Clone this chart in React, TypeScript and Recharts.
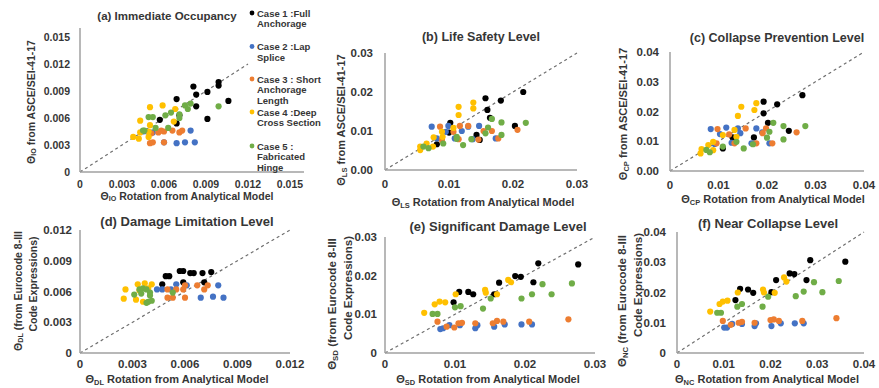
import React from 'react';
import { ScatterChart, Scatter, XAxis, YAxis, ReferenceLine } from 'recharts';

const FONT = '"Liberation Sans", Arial, sans-serif';
const TEXT = '#363636';
const AXIS = '#a0a0a0';

const caseNames = [
  ['Case 1 :Full', 'Anchorage'],
  ['Case 2 :Lap', 'Splice'],
  ['Case 3 : Short', 'Anchorage', 'Length'],
  ['Case 4 :Deep', 'Cross Section'],
  ['Case 5 :', 'Fabricated', 'Hinge'],
];
const caseColors = ['#000000', '#4472C4', '#ED7D31', '#FFC000', '#70AD47'];

// (a) Immediate Occupancy
const io1 = [[0.0099,0.0100],[0.0099,0.0096],[0.0091,0.0089],[0.0081,0.0095],[0.0083,0.0086],[0.0069,0.0081],[0.0083,0.0073],[0.0106,0.0079],[0.0071,0.0063],[0.0057,0.0058],[0.0091,0.0059],[0.0069,0.0054]];
const io2 = [[0.0045,0.0045],[0.0052,0.0044],[0.0079,0.0046],[0.0060,0.0033],[0.0069,0.0032],[0.0075,0.0033],[0.0082,0.0033],[0.0048,0.0045]];
const io3 = [[0.0050,0.0032],[0.0052,0.0033],[0.0060,0.0033],[0.0051,0.0043],[0.0056,0.0044],[0.0060,0.0045],[0.0066,0.0046],[0.0071,0.0044],[0.0073,0.0046],[0.0058,0.0046]];
const io4 = [[0.0050,0.0072],[0.0059,0.0074],[0.0068,0.0070],[0.0043,0.0057],[0.0050,0.0052],[0.0067,0.0056],[0.0038,0.0039],[0.0042,0.0037],[0.0049,0.0039],[0.0043,0.0044],[0.0049,0.0045]];
const io5 = [[0.0079,0.0076],[0.0075,0.0074],[0.0077,0.0070],[0.0071,0.0064],[0.0071,0.0060],[0.0061,0.0063],[0.0099,0.0073],[0.0049,0.0061],[0.0052,0.0061],[0.0054,0.0049],[0.0063,0.0049],[0.0046,0.0046],[0.0045,0.0046],[0.0065,0.0066]];

// (b) Life Safety
const ls1 = [[0.0216,0.0200],[0.0181,0.0178],[0.0157,0.0184],[0.0160,0.0154],[0.0164,0.0134],[0.0102,0.0121],[0.0143,0.0090],[0.0148,0.0077],[0.0203,0.0113],[0.0081,0.0066],[0.0100,0.0096]];
const ls2 = [[0.0073,0.0111],[0.0099,0.0113],[0.0095,0.0098],[0.0081,0.0081],[0.0109,0.0081],[0.0120,0.0100],[0.0130,0.0111],[0.0147,0.0113],[0.0137,0.0079],[0.0173,0.0081]];
const ls3 = [[0.0086,0.0111],[0.0107,0.0098],[0.0117,0.0113],[0.0130,0.0113],[0.0115,0.0079],[0.0154,0.0100],[0.0167,0.0100],[0.0177,0.0081],[0.0207,0.0103],[0.0089,0.0077],[0.0146,0.0078]];
const ls4 = [[0.0115,0.0162],[0.0115,0.0141],[0.0138,0.0173],[0.0138,0.0158],[0.0055,0.0060],[0.0055,0.0051],[0.0065,0.0068],[0.0075,0.0060],[0.0076,0.0084],[0.0090,0.0085],[0.0107,0.0108],[0.0089,0.0098]];
const ls5 = [[0.0167,0.0131],[0.0182,0.0122],[0.0220,0.0121],[0.0161,0.0109],[0.0182,0.0090],[0.0157,0.0094],[0.0112,0.0085],[0.0122,0.0064],[0.0135,0.0079],[0.0091,0.0068],[0.0068,0.0056],[0.0060,0.0060],[0.0112,0.0080]];

// (c) Collapse Prevention
const cp1 = [[0.0273,0.0255],[0.0221,0.0224],[0.0193,0.0233],[0.0193,0.0194],[0.0202,0.0162],[0.0245,0.0135],[0.0173,0.0113],[0.0129,0.0113],[0.0109,0.0076]];
const cp2 = [[0.0084,0.0141],[0.0116,0.0146],[0.0103,0.0124],[0.0140,0.0143],[0.0145,0.0127],[0.0127,0.0095],[0.0092,0.0091],[0.0178,0.0143],[0.0190,0.0130],[0.0168,0.0093],[0.0205,0.0093]];
const cp3 = [[0.0098,0.0141],[0.0096,0.0093],[0.0122,0.0123],[0.0133,0.0093],[0.0156,0.0143],[0.0178,0.0093],[0.0198,0.0143],[0.0191,0.0127],[0.0211,0.0093],[0.0261,0.0130]];
const cp4 = [[0.0147,0.0216],[0.0178,0.0228],[0.0174,0.0205],[0.0140,0.0185],[0.0133,0.0138],[0.0137,0.0115],[0.0109,0.0121],[0.0089,0.0098],[0.0079,0.0087],[0.0065,0.0074],[0.0063,0.0059],[0.0089,0.0070]];
const cp5 = [[0.0213,0.0162],[0.0234,0.0151],[0.0279,0.0151],[0.0205,0.0132],[0.0200,0.0112],[0.0234,0.0106],[0.0152,0.0076],[0.0137,0.0098],[0.0109,0.0082],[0.0075,0.0071],[0.0082,0.0063],[0.0171,0.0090]];

// (d) Damage Limitation
const dl1 = [[0.0049,0.0075],[0.0051,0.0075],[0.0057,0.0080],[0.0059,0.0080],[0.0063,0.0078],[0.0065,0.0078],[0.0070,0.0078],[0.0075,0.0079],[0.0047,0.0067],[0.0059,0.0069],[0.0071,0.0069]];
const dl2 = [[0.0044,0.0062],[0.0047,0.0062],[0.0052,0.0062],[0.0055,0.0067],[0.0061,0.0066],[0.0069,0.0054],[0.0076,0.0055],[0.0082,0.0054],[0.0079,0.0066]];
const dl3 = [[0.0050,0.0054],[0.0053,0.0054],[0.0060,0.0054],[0.0050,0.0062],[0.0055,0.0062],[0.0059,0.0062],[0.0060,0.0066],[0.0067,0.0066],[0.0071,0.0062],[0.0073,0.0066]];
const dl4 = [[0.0026,0.0062],[0.0025,0.0053],[0.0033,0.0067],[0.0037,0.0068],[0.0041,0.0067],[0.0032,0.0052],[0.0036,0.0050],[0.0039,0.0063],[0.0034,0.0061]];
const dl5 = [[0.0034,0.0062],[0.0036,0.0063],[0.0038,0.0062],[0.0040,0.0059],[0.0040,0.0056],[0.0031,0.0057],[0.0038,0.0049],[0.0041,0.0051],[0.0053,0.0059],[0.0035,0.0058],[0.0039,0.0050]];

// (e) Significant Damage
const sd1 = [[0.0276,0.0229],[0.0219,0.0232],[0.0186,0.0199],[0.0194,0.0197],[0.0212,0.0183],[0.0163,0.0182],[0.0156,0.0152],[0.0106,0.0158],[0.0119,0.0158],[0.0126,0.0152],[0.0098,0.0131]];
const sd2 = [[0.0079,0.0062],[0.0083,0.0064],[0.0092,0.0072],[0.0107,0.0072],[0.0129,0.0064],[0.0132,0.0072],[0.0156,0.0068],[0.0171,0.0074],[0.0195,0.0074],[0.0210,0.0074]];
const sd3 = [[0.0262,0.0087],[0.0206,0.0081],[0.0169,0.0081],[0.0160,0.0083],[0.0154,0.0077],[0.0110,0.0078],[0.0105,0.0077],[0.0099,0.0066],[0.0088,0.0068],[0.0075,0.0081],[0.0129,0.0077]];
const sd4 = [[0.0176,0.0189],[0.0180,0.0183],[0.0143,0.0163],[0.0144,0.0156],[0.0160,0.0152],[0.0101,0.0152],[0.0086,0.0131],[0.0078,0.0133],[0.0071,0.0126],[0.0056,0.0104]];
const sd5 = [[0.0267,0.0180],[0.0225,0.0178],[0.0238,0.0152],[0.0210,0.0152],[0.0195,0.0141],[0.0151,0.0141],[0.0140,0.0115],[0.0100,0.0118],[0.0108,0.0121],[0.0075,0.0101],[0.0068,0.0101]];

// (f) Near Collapse
const nc1 = [[0.0360,0.0302],[0.0285,0.0307],[0.0241,0.0263],[0.0251,0.0261],[0.0277,0.0241],[0.0212,0.0241],[0.0202,0.0201],[0.0135,0.0212],[0.0152,0.0210],[0.0163,0.0199],[0.0125,0.0175]];
const nc2 = [[0.0101,0.0084],[0.0107,0.0084],[0.0118,0.0096],[0.0139,0.0096],[0.0166,0.0089],[0.0169,0.0098],[0.0202,0.0089],[0.0222,0.0098],[0.0252,0.0098],[0.0271,0.0098]];
const nc3 = [[0.0341,0.0115],[0.0268,0.0106],[0.0218,0.0106],[0.0207,0.0111],[0.0200,0.0109],[0.0166,0.0100],[0.0139,0.0103],[0.0132,0.0100],[0.0115,0.0093],[0.0098,0.0106]];
const nc4 = [[0.0229,0.0250],[0.0234,0.0236],[0.0184,0.0210],[0.0186,0.0200],[0.0209,0.0199],[0.0130,0.0200],[0.0108,0.0173],[0.0098,0.0170],[0.0091,0.0162],[0.0071,0.0137]];
const nc5 = [[0.0346,0.0238],[0.0293,0.0234],[0.0311,0.0201],[0.0271,0.0203],[0.0254,0.0188],[0.0195,0.0186],[0.0183,0.0153],[0.0139,0.0162],[0.0129,0.0153],[0.0094,0.0133],[0.0086,0.0133]];

// ticks
const ticks003 = [0, 0.003, 0.006, 0.009, 0.012, 0.015];
const labels003 = ['0', '0.003', '0.006', '0.009', '0.012', '0.015'];
const ticks012 = [0, 0.003, 0.006, 0.009, 0.012];
const labels012 = ['0', '0.003', '0.006', '0.009', '0.012'];
const ticks03 = [0, 0.01, 0.02, 0.03];
const labels03 = ['0', '0.01', '0.02', '0.03'];
const labels03z = ['0.00', '0.01', '0.02', '0.03'];
const ticks04 = [0, 0.01, 0.02, 0.03, 0.04];
const labels04 = ['0', '0.01', '0.02', '0.03', '0.04'];
const labels04z = ['0.00', '0.01', '0.02', '0.03', '0.04'];

const toPts = (arr: number[][]) => arr.map(([x, y]) => ({ x, y }));

type Cfg = {
  l: number; r: number; t: number; b: number;
  xMax: number; yMax: number; diag: number;
  xTicks: number[]; xLabels: string[]; yTicks: number[]; yLabels: string[];
  series: number[][][]; fs: number; yGap: number; xGap: number;
};

const panels: Cfg[] = [
  { l: 80, r: 304, t: 28, b: 172, xMax: 0.016, yMax: 0.016, diag: 0.012, xTicks: ticks003, xLabels: labels003, yTicks: ticks003, yLabels: labels003, series: [io1, io2, io3, io4, io5], fs: 10.5, yGap: 10, xGap: 9 },
  { l: 385, r: 577, t: 53, b: 170, xMax: 0.03, yMax: 0.03, diag: 0.03, xTicks: ticks03, xLabels: labels03, yTicks: ticks03, yLabels: labels03z, series: [ls1, ls2, ls3, ls4, ls5], fs: 11.5, yGap: 12, xGap: 10 },
  { l: 670, r: 864, t: 52, b: 171, xMax: 0.04, yMax: 0.04, diag: 0.04, xTicks: ticks04, xLabels: labels04, yTicks: ticks04, yLabels: labels04z, series: [cp1, cp2, cp3, cp4, cp5], fs: 11.5, yGap: 11, xGap: 10 },
  { l: 80, r: 290, t: 230, b: 353, xMax: 0.012, yMax: 0.012, diag: 0.012, xTicks: ticks012, xLabels: labels012, yTicks: ticks012, yLabels: labels012, series: [dl1, dl2, dl3, dl4, dl5], fs: 11.5, yGap: 8, xGap: 7 },
  { l: 385, r: 595, t: 237, b: 353, xMax: 0.03, yMax: 0.03, diag: 0.03, xTicks: ticks03, xLabels: labels03, yTicks: ticks03, yLabels: labels03, series: [sd1, sd2, sd3, sd4, sd5], fs: 11.5, yGap: 8, xGap: 7 },
  { l: 677, r: 864, t: 232, b: 353, xMax: 0.04, yMax: 0.04, diag: 0.04, xTicks: ticks04, xLabels: labels04, yTicks: ticks04, yLabels: labels04, series: [nc1, nc2, nc3, nc4, nc5], fs: 11.5, yGap: 11, xGap: 7 },
];

const W = 879;
const H = 388;

function Panel({ c }: { c: Cfg }) {
  const tickStyle = { fill: TEXT, fontSize: c.fs, fontWeight: 'bold', fontFamily: FONT };
  return (
    <div style={{ position: 'absolute', left: 0, top: 0 }}>
      <ScatterChart width={W} height={H} margin={{ top: c.t, right: W - c.r, bottom: 0, left: 0 }}>
        <XAxis
          type="number"
          dataKey="x"
          domain={[0, c.xMax]}
          ticks={c.xTicks}
          interval={0}
          tickFormatter={(v: number) => c.xLabels[c.xTicks.indexOf(v)]}
          height={H - c.b}
          axisLine={{ stroke: AXIS, strokeWidth: 1.5 }}
          tickLine={false}
          tickSize={0}
          tickMargin={c.xGap}
          tick={tickStyle}
          allowDataOverflow
        />
        <YAxis
          type="number"
          dataKey="y"
          domain={[0, c.yMax]}
          ticks={c.yTicks}
          interval={0}
          tickFormatter={(v: number) => c.yLabels[c.yTicks.indexOf(v)]}
          width={c.l}
          axisLine={{ stroke: AXIS, strokeWidth: 1.5 }}
          tickLine={false}
          tickSize={0}
          tickMargin={c.yGap}
          tick={tickStyle}
          allowDataOverflow
        />
        <ReferenceLine
          segment={[{ x: 0, y: 0 }, { x: c.diag, y: c.diag }]}
          stroke="#6f6f6f"
          strokeWidth={1.2}
          strokeDasharray="3 3"
          ifOverflow="visible"
        />
        {c.series.map((s, i) => (
          <Scatter
            key={i}
            data={toPts(s)}
            fill={caseColors[i]}
            isAnimationActive={false}
            shape={(p: any) => <circle cx={p.cx} cy={p.cy} r={3.1} fill={caseColors[i]} />}
          />
        ))}
      </ScatterChart>
    </div>
  );
}

function Sub({ main, sub, rest, fs }: { main: string; sub: string; rest: string; fs: number }) {
  const d = fs * 0.25;
  return (
    <>
      <tspan>{main}</tspan>
      <tspan dy={d} fontSize={fs * 0.68}>{sub}</tspan>
      <tspan dy={-d}>{rest}</tspan>
    </>
  );
}

const titles = [
  { t: '(a) Immediate Occupancy', x: 167, y: 16, fs: 11.5 },
  { t: '(b) Life Safety Level', x: 481, y: 37, fs: 12.5 },
  { t: '(c) Collapse Prevention Level', x: 777, y: 38, fs: 12.5 },
  { t: '(d) Damage Limitation Level', x: 187, y: 221, fs: 13 },
  { t: '(e) Significant Damage Level', x: 498, y: 226, fs: 13 },
  { t: '(f) Near Collapse Level', x: 768, y: 223, fs: 13 },
];

const xTitles = [
  { s: 'IO', x: 187, y: 196, fs: 10.5 },
  { s: 'LS', x: 483, y: 202, fs: 11 },
  { s: 'CP', x: 773, y: 199, fs: 11 },
  { s: 'DL', x: 177, y: 379, fs: 11 },
  { s: 'SD', x: 488, y: 379, fs: 11 },
  { s: 'NC', x: 767, y: 379, fs: 11 },
];

const yTitlesTop = [
  { s: 'IO', x: 31, y: 102, fs: 10.5 },
  { s: 'LS', x: 341, y: 120, fs: 11 },
  { s: 'CP', x: 623, y: 114, fs: 11 },
];

const yTitlesBottom = [
  { s: 'DL', x1: 18, y1: 291, x2: 33, y2: 284, fs: 10.5 },
  { s: 'SD', x1: 332, y1: 304, x2: 348, y2: 288, fs: 11.5 },
  { s: 'NC', x1: 622, y1: 301, x2: 638, y2: 285, fs: 11.5 },
];

const legendY = [13, 46.5, 79, 112, 146];

function Overlay() {
  const base = { fontFamily: FONT, fontWeight: 'bold' as const, fill: TEXT };
  return (
    <svg width={W} height={H} style={{ position: 'absolute', left: 0, top: 0, pointerEvents: 'none' }}>
      {titles.map((t, i) => (
        <text key={i} x={t.x} y={t.y} textAnchor="middle" dominantBaseline="central" fontSize={t.fs} {...base}>{t.t}</text>
      ))}
      {xTitles.map((t, i) => (
        <text key={i} x={t.x} y={t.y} textAnchor="middle" dominantBaseline="central" fontSize={t.fs} {...base}>
          <Sub main="Θ" sub={t.s} rest=" Rotation from Analytical Model" fs={t.fs} />
        </text>
      ))}
      {yTitlesTop.map((t, i) => (
        <text key={i} x={t.x} y={t.y} textAnchor="middle" dominantBaseline="central" fontSize={t.fs} transform={`rotate(-90 ${t.x} ${t.y})`} {...base}>
          <Sub main="Θ" sub={t.s} rest=" from ASCE/SEI-41-17" fs={t.fs} />
        </text>
      ))}
      {yTitlesBottom.map((t, i) => (
        <g key={i}>
          <text x={t.x1} y={t.y1} textAnchor="middle" dominantBaseline="central" fontSize={t.fs} transform={`rotate(-90 ${t.x1} ${t.y1})`} {...base}>
            <Sub main="Θ" sub={t.s} rest=" (from Eurocode 8-III" fs={t.fs} />
          </text>
          <text x={t.x2} y={t.y2} textAnchor="middle" dominantBaseline="central" fontSize={t.fs} transform={`rotate(-90 ${t.x2} ${t.y2})`} {...base}>
            Code Expressions)
          </text>
        </g>
      ))}
      {caseNames.map((lines, i) => (
        <g key={i}>
          <circle cx={252} cy={legendY[i]} r={2.4} fill={caseColors[i]} />
          {lines.map((ln, j) => (
            <text key={j} x={257} y={legendY[i] + j * 10.8} dominantBaseline="central" fontSize={9.5} {...base}>{ln}</text>
          ))}
        </g>
      ))}
    </svg>
  );
}

export default function App() {
  return (
    <div style={{ position: 'absolute', left: 0, top: 0, width: W, height: H, background: '#fff', overflow: 'hidden' }}>
      {panels.map((c, i) => (
        <Panel key={i} c={c} />
      ))}
      <Overlay />
    </div>
  );
}
